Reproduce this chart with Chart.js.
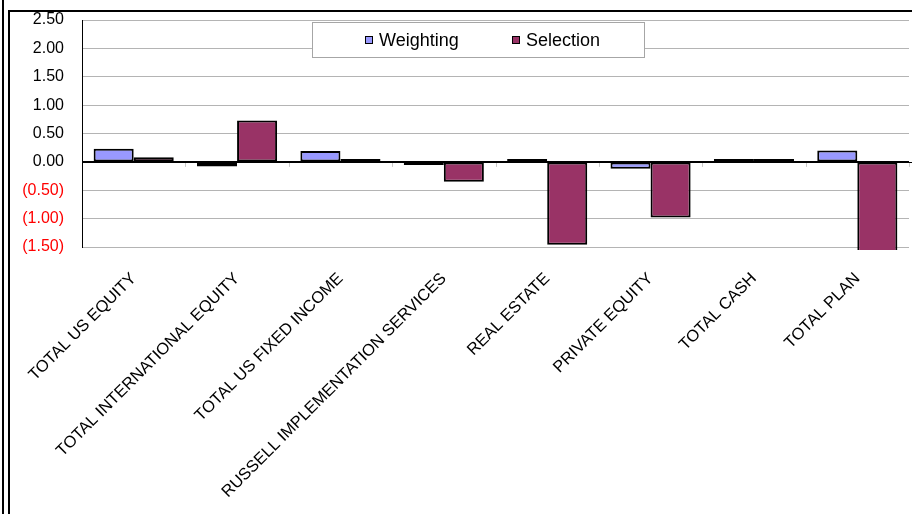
<!DOCTYPE html>
<html>
<head>
<meta charset="utf-8">
<script src="https://cdn.jsdelivr.net/npm/chart.js@4"></script>
<style>
  html, body { margin: 0; padding: 0; background: #ffffff; }
  #wrap { position: relative; width: 912px; height: 514px; }
</style>
</head>
<body>
<div id="wrap"><canvas id="chart" width="912" height="514"></canvas></div>
<script>
// Attribution by asset class: weighting vs. selection effects (percent)
const categories = [
  'TOTAL US EQUITY',
  'TOTAL INTERNATIONAL EQUITY',
  'TOTAL US FIXED INCOME',
  'RUSSELL IMPLEMENTATION SERVICES',
  'REAL ESTATE',
  'PRIVATE EQUITY',
  'TOTAL CASH',
  'TOTAL PLAN'
];
const weighting = [0.23, -0.08, 0.19, -0.03, 0.01, -0.12, 0.01, 0.20];
const selection = [0.08, 0.73, 0.02, -0.35, -1.46, -0.98, 0.03, -1.60];
const yMin = -1.5;
const yMax = 2.5;
const yStep = 0.5;

const FONT = "'Liberation Sans', Arial, sans-serif";

// Accounting-style tick text: negatives in parentheses
function fmt(v) {
  const s = Math.abs(v).toFixed(2);
  return v < 0 ? '(' + s + ')' : s;
}

// Page frame: double rule on the left, single rule along the top
const framePlugin = {
  id: 'frame',
  beforeDraw(chart) {
    const ctx = chart.ctx;
    ctx.save();
    ctx.fillStyle = '#ffffff';
    ctx.fillRect(0, 0, chart.width, chart.height);
    ctx.fillStyle = '#000000';
    ctx.fillRect(2, 0, 2, chart.height);
    ctx.fillRect(8, 10, 2, chart.height - 10);
    ctx.fillRect(8, 10, chart.width - 8, 2);
    ctx.restore();
  }
};

// Short tick marks hanging under the zero line at category boundaries
const zeroTicksPlugin = {
  id: 'zeroTicks',
  afterDatasetsDraw(chart) {
    const x = chart.scales.x, y = chart.scales.y;
    const y0 = y.getPixelForValue(0);
    const n = chart.data.labels.length;
    const ctx = chart.ctx;
    ctx.save();
    ctx.strokeStyle = '#c8c8c8';
    ctx.lineWidth = 1;
    for (let i = 1; i <= n; i++) {
      const px = Math.round(x.left + i * (x.right - x.left) / n) + 0.5;
      ctx.beginPath();
      ctx.moveTo(px, y0 + 1);
      ctx.lineTo(px, y0 + 5);
      ctx.stroke();
    }
    // zero line across the full width
    ctx.strokeStyle = '#000000';
    ctx.beginPath();
    ctx.moveTo(x.left, Math.round(y0) + 0.5);
    ctx.lineTo(chart.width, Math.round(y0) + 0.5);
    ctx.stroke();
    ctx.restore();
  }
};

// Boxed legend floating over the plot
const boxLegendPlugin = {
  id: 'boxLegend',
  afterDraw(chart) {
    const ctx = chart.ctx;
    const bx = 312, by = 22, bw = 333, bh = 36;
    ctx.save();
    ctx.fillStyle = '#ffffff';
    ctx.fillRect(bx, by, bw, bh);
    ctx.strokeStyle = '#a6a6a6';
    ctx.lineWidth = 1;
    ctx.strokeRect(bx + 0.5, by + 0.5, bw - 1, bh - 1);
    ctx.font = '18px ' + FONT;
    ctx.textBaseline = 'middle';
    ctx.textAlign = 'left';
    const items = [{ x: 365 }, { x: 512 }];
    chart.data.datasets.forEach((ds, i) => {
      const sx = items[i].x, sy = by + 14;
      ctx.fillStyle = ds.backgroundColor;
      ctx.fillRect(sx, sy, 8, 8);
      ctx.strokeStyle = '#000000';
      ctx.lineWidth = 1;
      ctx.strokeRect(sx + 0.5, sy + 0.5, 7, 7);
      ctx.fillStyle = '#000000';
      ctx.fillText(ds.label, sx + 14, by + 19);
    });
    ctx.restore();
  }
};

const barStyle = {
  borderColor: '#000000',
  borderWidth: 2,
  borderSkipped: false,
  minBarLength: 3,
  categoryPercentage: 0.775,
  barPercentage: 1.0,
  clip: { left: 0, top: 0, right: 0, bottom: 3 }
};

new Chart(document.getElementById('chart'), {
  type: 'bar',
  data: {
    labels: categories,
    datasets: [
      Object.assign({ label: 'Weighting', data: weighting, backgroundColor: '#9999FF' }, barStyle),
      Object.assign({ label: 'Selection', data: selection, backgroundColor: '#993366' }, barStyle)
    ]
  },
  options: {
    responsive: false,
    animation: false,
    devicePixelRatio: 1,
    layout: { padding: { left: 10, top: 20, right: 3, bottom: 0 } },
    plugins: {
      legend: { display: false },
      tooltip: { enabled: false }
    },
    scales: {
      x: {
        grid: { display: false, drawTicks: false },
        border: { display: false },
        ticks: {
          maxRotation: 45,
          minRotation: 45,
          autoSkip: false,
          padding: 22,
          color: '#000000',
          font: { family: FONT, size: 16.4 }
        },
        afterFit(scale) { scale.height = 267; }
      },
      y: {
        min: yMin,
        max: yMax,
        ticks: {
          stepSize: yStep,
          padding: 18,
          color: (c) => (c.tick.value < 0 ? '#ff0000' : '#000000'),
          font: { family: FONT, size: 16 },
          callback: (v) => fmt(v)
        },
        grid: {
          drawTicks: false,
          color: (c) => (c.tick && c.tick.value === 0 ? '#000000' : '#b4b4b4'),
          lineWidth: 1
        },
        border: { display: true, color: '#000000', width: 1 },
        afterFit(scale) {
          scale.width = 72;
          scale.paddingTop = 0;
          scale.paddingBottom = 0;
        }
      }
    }
  },
  plugins: [framePlugin, zeroTicksPlugin, boxLegendPlugin]
});
</script>
</body>
</html>
